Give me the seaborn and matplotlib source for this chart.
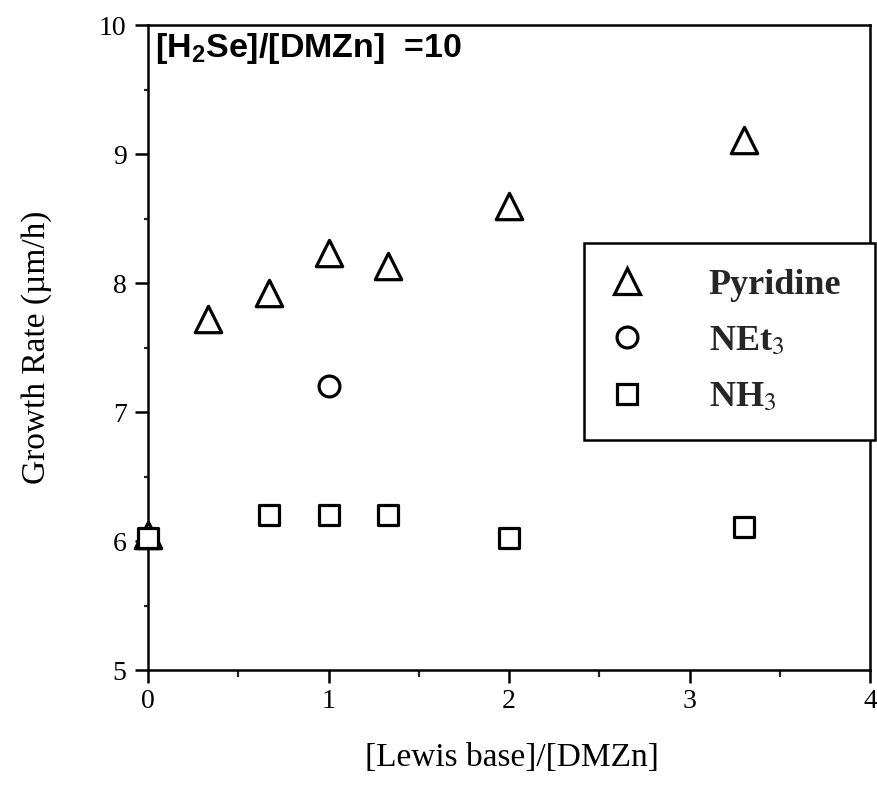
import matplotlib
matplotlib.use('Agg')
import matplotlib.pyplot as plt
import seaborn as sns
import pandas as pd
from matplotlib.lines import Line2D

# ---- data ----
pyr_x = [0, 0.33, 0.67, 1.0, 1.33, 2.0, 3.3]
pyr_y = [6.05, 7.72, 7.92, 8.23, 8.13, 8.60, 9.11]
net_x = [1.0]
net_y = [7.20]
nh3_x = [0, 0.67, 1.0, 1.33, 2.0, 3.3]
nh3_y = [6.02, 6.20, 6.20, 6.20, 6.02, 6.11]
series_labels = ['Pyridine', 'NEt$_3$', 'NH$_3$']
x_ticks = [0, 1, 2, 3, 4]
y_ticks = [5, 6, 7, 8, 9, 10]
x_minor = [0.5, 1.5, 2.5, 3.5]
y_minor = [5.5, 6.5, 7.5, 8.5, 9.5]
x_label = '[Lewis base]/[DMZn]'
y_label = 'Growth Rate (\u00b5m/h)'
note = '[H$_2$Se]/[DMZn]  =10'

sns.set_theme(style='ticks')
plt.rcParams['font.family'] = ['Liberation Serif', 'DejaVu Serif']
plt.rcParams['mathtext.fontset'] = 'custom'
plt.rcParams['mathtext.rm'] = 'Liberation Sans:bold'
plt.rcParams['mathtext.it'] = 'Liberation Sans:bold'
plt.rcParams['mathtext.bf'] = 'Liberation Sans:bold'

df = pd.concat([
    pd.DataFrame({'x': pyr_x, 'y': pyr_y, 'base': series_labels[0]}),
    pd.DataFrame({'x': net_x, 'y': net_y, 'base': series_labels[1]}),
    pd.DataFrame({'x': nh3_x, 'y': nh3_y, 'base': series_labels[2]}),
], ignore_index=True)

fig = plt.figure(figsize=(8.78, 7.89), dpi=100)
ax = fig.add_axes([0.1686, 0.1508, 0.8223, 0.8175])

markers = {series_labels[0]: '^', series_labels[1]: 'o', series_labels[2]: 's'}
sizes_ms = {series_labels[0]: 19, series_labels[1]: 15, series_labels[2]: 15}
for i, lab in enumerate(series_labels):
    sub = df[df['base'] == lab]
    sns.scatterplot(data=sub, x='x', y='y', ax=ax, marker=markers[lab],
                    s=sizes_ms[lab] ** 2, facecolor='white', edgecolor='black',
                    linewidth=2.3, clip_on=False, zorder=5 + i, legend=False)

ax.set_xlim(0, 4)
ax.set_ylim(5, 10)
ax.set_xticks(x_ticks)
ax.set_xticklabels([str(t) for t in x_ticks])
ax.set_xticks(x_minor, minor=True)
ax.set_yticks(y_ticks)
ax.set_yticklabels([str(t) for t in y_ticks])
ax.set_yticks(y_minor, minor=True)
ax.tick_params(axis='both', which='major', direction='out', length=9.5, width=1.8,
               labelsize=20, colors='black', pad=4)
ax.tick_params(axis='y', which='major', pad=6)
ax.tick_params(axis='x', which='minor', direction='out', length=5, width=1.6)
ax.tick_params(axis='y', which='minor', direction='out', length=3, width=1.6)
for sp in ax.spines.values():
    sp.set_visible(True)
    sp.set_linewidth(1.8)
    sp.set_color('black')

ax.set_xlabel(x_label, fontsize=24, color='black')
ax.set_ylabel(y_label, fontsize=24, color='black')
ax.xaxis.set_label_coords(0.504, -0.113)
ax.yaxis.set_label_coords(-0.133, 0.5)

ax.text(0.01, 0.99, note, transform=ax.transAxes, ha='left', va='top',
        fontsize=24.5, fontweight='bold', family='Liberation Sans',
        math_fontfamily='custom', color='black')

handles = [Line2D([], [], linestyle='none', marker=markers[l], markersize=sizes_ms[l],
                  markerfacecolor='white', markeredgecolor='black', markeredgewidth=2.3)
           for l in series_labels]
leg = ax.legend(handles, series_labels, loc='upper left',
                bbox_to_anchor=(584 / 878, 1 - 437 / 789, 291 / 878, 194 / 789),
                bbox_transform=fig.transFigure, mode='expand',
                borderaxespad=0, frameon=True, fancybox=False, framealpha=1,
                edgecolor='black', fontsize=26, handlelength=1.0,
                handletextpad=1.75, borderpad=0.7, labelspacing=0.64)
leg.get_frame().set_linewidth(1.8)
leg.set_zorder(10)
for t in leg.get_texts():
    t.set_fontweight('bold')
    t.set_math_fontfamily('stix')

fig.savefig('out.png', dpi=100, facecolor='white')
